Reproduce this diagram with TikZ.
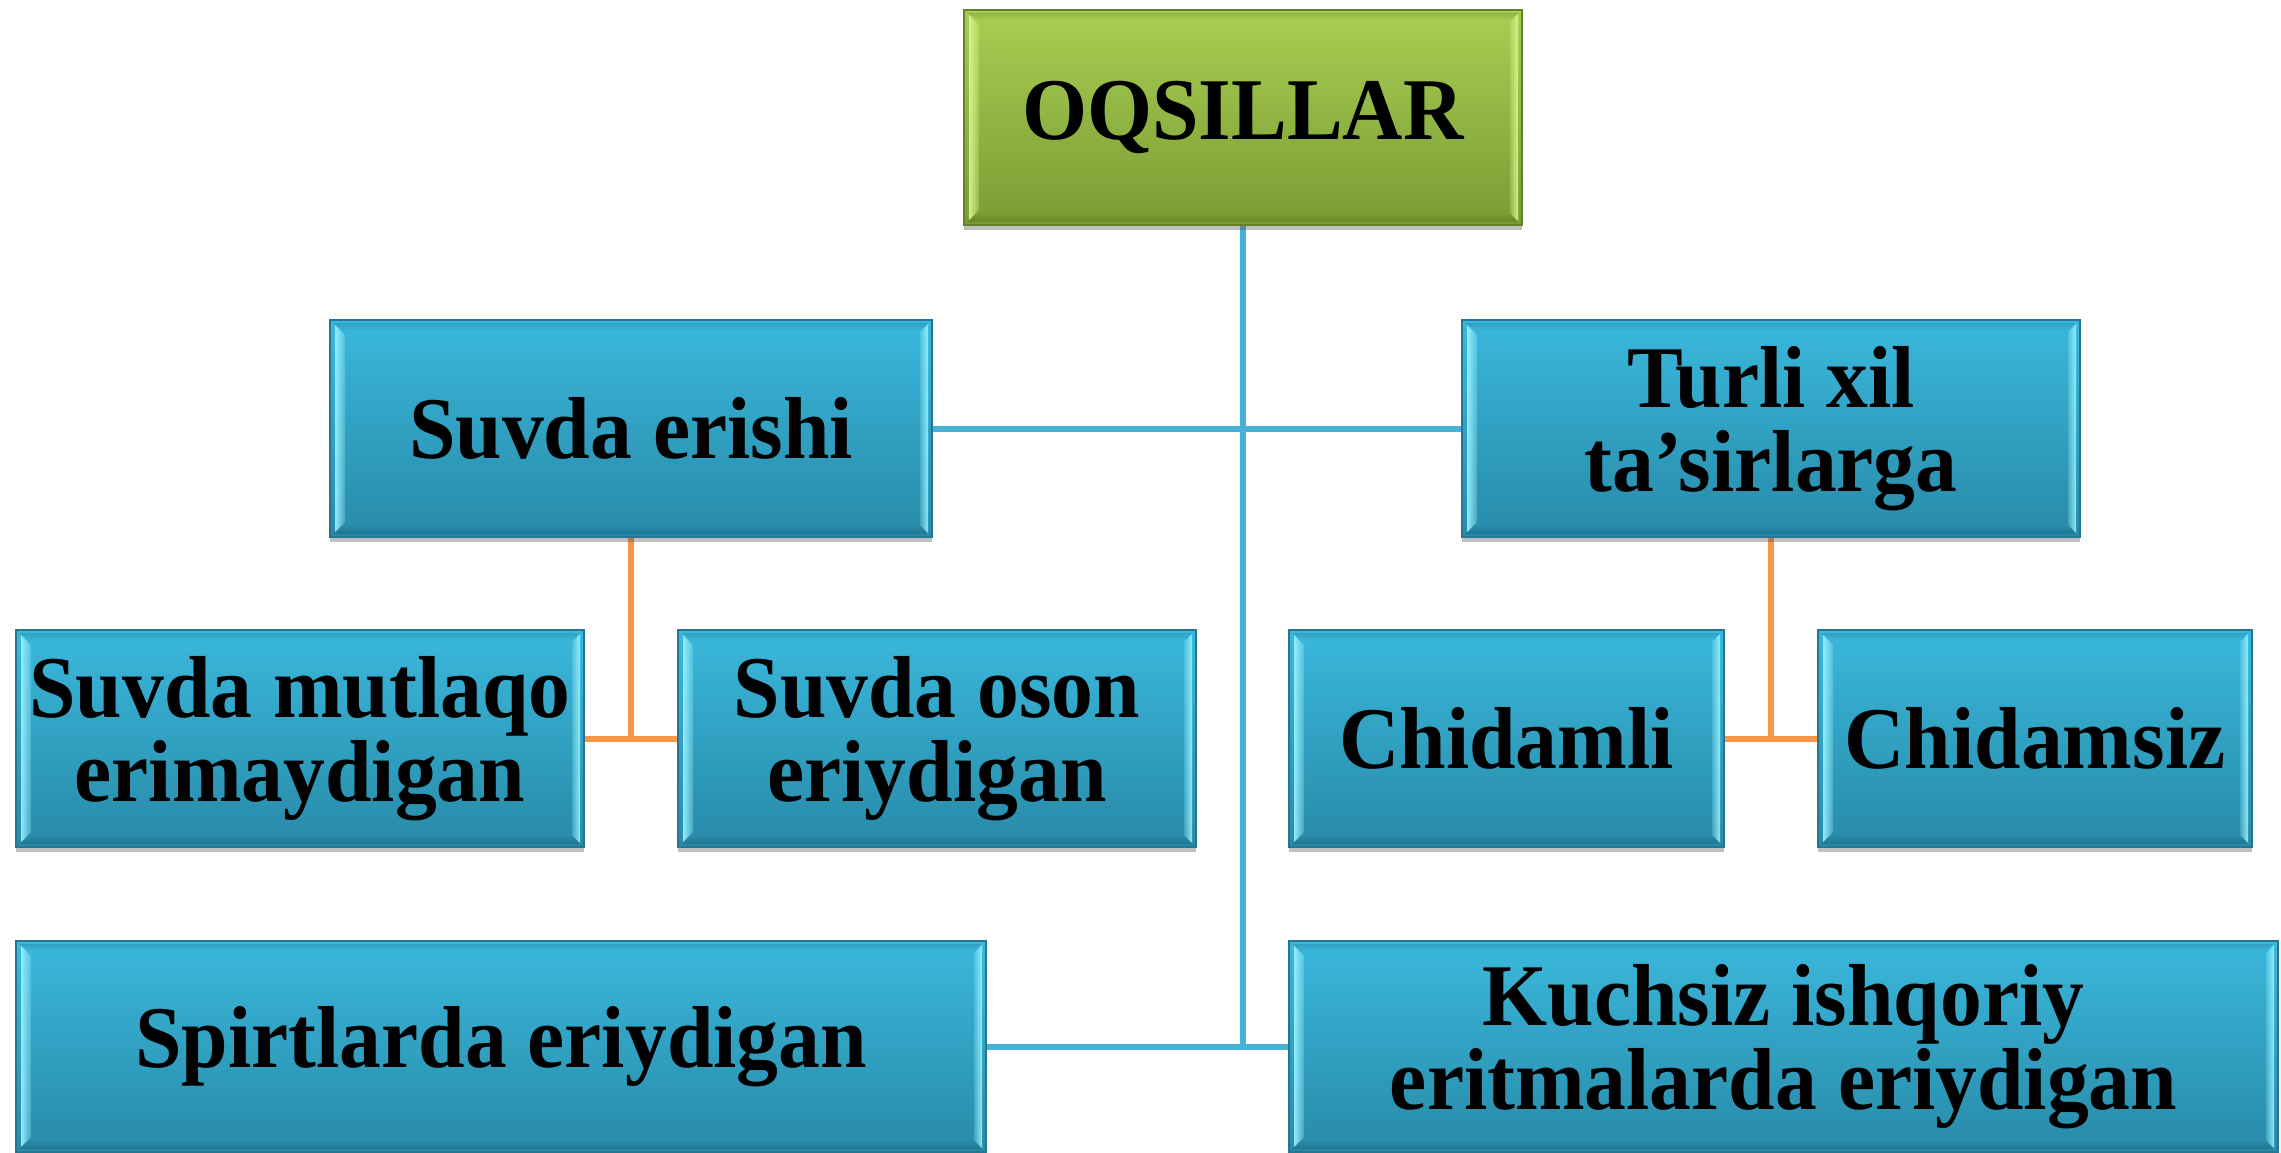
\documentclass[tikz,border=0pt]{standalone}
\usepackage{fontspec}
\setmainfont{Liberation Serif}[FakeStretch=0.95]
\usetikzlibrary{shadows,fadings,backgrounds,calc}
\definecolor{bTop}{RGB}{58,184,220}
\definecolor{bMid}{RGB}{51,168,204}
\definecolor{bBot}{RGB}{40,138,168}
\definecolor{bEdge}{RGB}{38,118,145}
\definecolor{bLight}{RGB}{150,240,252}
\definecolor{bDark}{RGB}{25,95,120}
\definecolor{gTop}{RGB}{168,206,82}
\definecolor{gMid}{RGB}{150,188,70}
\definecolor{gBot}{RGB}{122,156,52}
\definecolor{gEdge}{RGB}{100,128,42}
\definecolor{gLight}{RGB}{215,245,140}
\definecolor{gDark}{RGB}{80,105,30}
\definecolor{lineBlue}{RGB}{72,178,214}
\definecolor{lineOrange}{RGB}{247,150,70}
\tikzfading[name=fadeR, left color=transparent!0, right color=transparent!75]
\tikzfading[name=fadeL, left color=transparent!75, right color=transparent!0]
\tikzfading[name=fadeU, bottom color=transparent!0, top color=transparent!100]
\tikzfading[name=fadeD, bottom color=transparent!100, top color=transparent!0]
\newcommand\bevelpp[2]{%
  \path (path picture bounding box.south west) coordinate (bvSW)
        (path picture bounding box.north east) coordinate (bvNE);
  \path (bvSW -| bvNE) coordinate (bvSE) (bvNE -| bvSW) coordinate (bvNW);
  \fill[#1, path fading=fadeR, opacity=0.95]
    ([shift={(5pt,-5pt)}]bvNW) -- ([shift={(15pt,-15pt)}]bvNW) --
    ([shift={(15pt,15pt)}]bvSW) -- ([shift={(5pt,5pt)}]bvSW) -- cycle;
  \fill[#1, path fading=fadeL, opacity=0.95]
    ([shift={(-4pt,-4pt)}]bvNE) -- ([shift={(-12pt,-12pt)}]bvNE) --
    ([shift={(-12pt,12pt)}]bvSE) -- ([shift={(-4pt,4pt)}]bvSE) -- cycle;
  \fill[#2, path fading=fadeU, opacity=0.45]
    ([shift={(3pt,3pt)}]bvSW) -- ([shift={(14pt,12pt)}]bvSW) --
    ([shift={(-12pt,12pt)}]bvSE) -- ([shift={(-3pt,3pt)}]bvSE) -- cycle;
  \fill[#2, path fading=fadeD, opacity=0.25]
    ([shift={(3pt,-3pt)}]bvNW) -- ([shift={(14pt,-10pt)}]bvNW) --
    ([shift={(-12pt,-10pt)}]bvNE) -- ([shift={(-3pt,-3pt)}]bvNE) -- cycle;
}
\newcommand\boxfont{\fontsize{88}{84}\selectfont\bfseries}
\tikzset{
  box/.style={rectangle, inner sep=0pt, align=center, font=\boxfont,
    line width=1.2pt, text=black,
    drop shadow={shadow xshift=0pt, shadow yshift=-5pt, opacity=0.35, fill=black!70}},
  bluebox/.style={box, top color=bTop, middle color=bMid, bottom color=bBot,
    draw=bEdge, path picture={\bevelpp{bLight}{bDark}}},
  greenbox/.style={box, top color=gTop, middle color=gMid, bottom color=gBot,
    draw=gEdge, path picture={\bevelpp{gLight}{gDark}}},
  blueline/.style={draw=lineBlue, line width=6pt},
  orangeline/.style={draw=lineOrange, line width=6pt},
}
\begin{document}
\begin{tikzpicture}[x=1pt, y=-1pt]
\useasboundingbox (0,0) rectangle (2281,1153);
\node[greenbox, minimum width=558pt, minimum height=215pt] (oq) at (1243,117.5) {OQSILLAR};
\node[bluebox, minimum width=602pt, minimum height=217pt] (se) at (631,428.5) {Suvda erishi};
\node[bluebox, minimum width=618pt, minimum height=217pt] (tx) at (1771,428.5) {Turli xil\\ta’sirlarga};
\node[bluebox, minimum width=568pt, minimum height=217pt] (sm) at (300,738.5) {Suvda mutlaqo\\erimaydigan};
\node[bluebox, minimum width=518pt, minimum height=217pt] (so) at (937,738.5) {Suvda oson\\eriydigan};
\node[bluebox, minimum width=435pt, minimum height=217pt] (ch) at (1506.5,738.5) {Chidamli};
\node[bluebox, minimum width=434pt, minimum height=217pt] (cz) at (2035,738.5) {Chidamsiz};
\node[bluebox, minimum width=970pt, minimum height=211pt] (sp) at (501,1046.5) {Spirtlarda eriydigan};
\node[bluebox, minimum width=989pt, minimum height=211pt] (ku) at (1783.5,1046.5) {Kuchsiz ishqoriy\\eritmalarda eriydigan};
\begin{scope}[on background layer]
  \fill[white] (0,0) rectangle (2281,1153);
  \draw[blueline] (oq.south) -- (oq.south |- sp.east);
  \draw[blueline] (se.east) -- (tx.west);
  \draw[blueline] (sp.east) -- (ku.west);
  \draw[orangeline] (se.south) -- (se.south |- sm.east);
  \draw[orangeline] (sm.east) -- (so.west);
  \draw[orangeline] (tx.south) -- (tx.south |- ch.east);
  \draw[orangeline] (ch.east) -- (cz.west);
\end{scope}
\end{tikzpicture}
\end{document}
